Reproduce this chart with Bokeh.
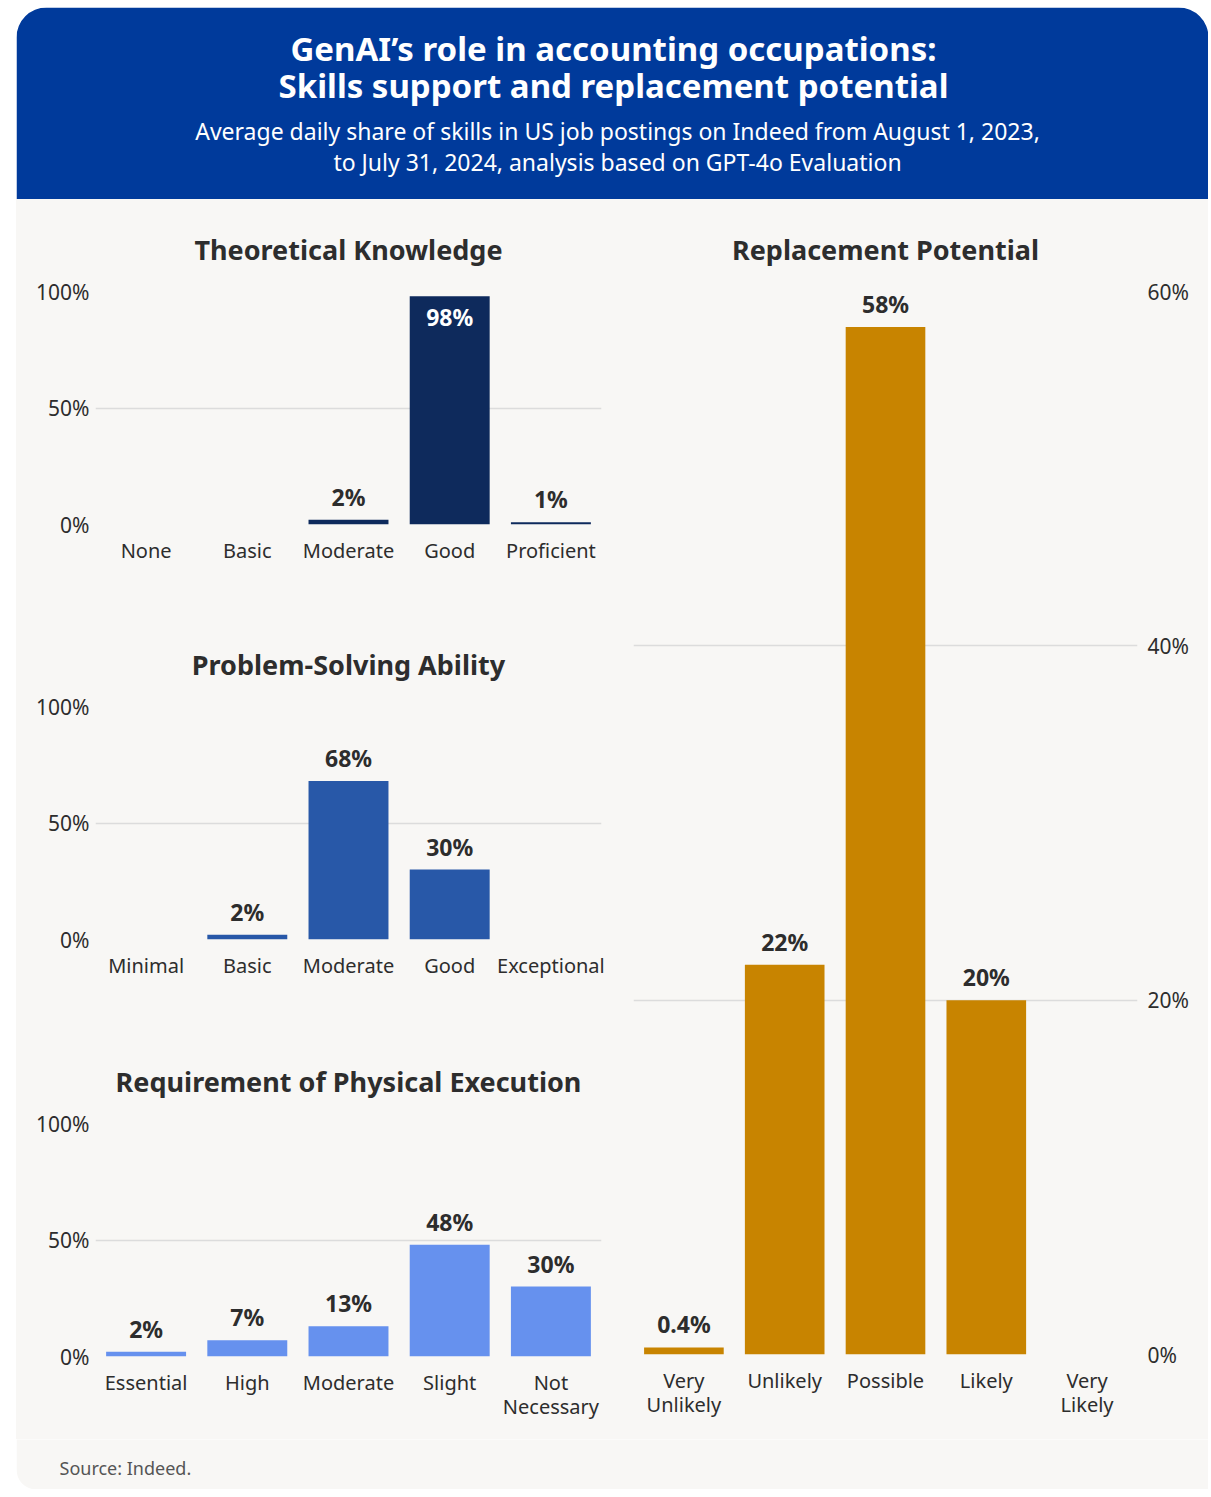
from bokeh.plotting import figure
from bokeh.models import Range1d, FactorRange, FixedTicker, PrintfTickFormatter
from bokeh.layouts import row, column
from bokeh.core.properties import value
from bokeh.embed import file_html
from bokeh.resources import INLINE

# ---------------- data ----------------
title_lines = ["GenAI’s role in accounting occupations:",
               "Skills support and replacement potential"]
subtitle_lines = ["Average daily share of skills in US job postings on Indeed from August 1, 2023,",
                  "to July 31, 2024, analysis based on GPT-4o Evaluation"]
source_text = "Source: Indeed."

tk_title = "Theoretical Knowledge"
tk_cats = ["None", "Basic", "Moderate", "Good", "Proficient"]
tk_vals = [0, 0, 2, 98, 1]

ps_title = "Problem-Solving Ability"
ps_cats = ["Minimal", "Basic", "Moderate", "Good", "Exceptional"]
ps_vals = [0, 2, 68, 30, 0]

pe_title = "Requirement of Physical Execution"
pe_cats = ["Essential", "High", "Moderate", "Slight", "Not\nNecessary"]
pe_vals = [2, 7, 13, 48, 30]

rp_title = "Replacement Potential"
rp_cats = ["Very\nUnlikely", "Unlikely", "Possible", "Likely", "Very\nLikely"]
rp_vals = [0.4, 22, 58, 20, 0]

left_ticks = [0, 50, 100]
right_ticks = [0, 20, 40, 60]

# ---------------- style ----------------
FONT = "Noto Sans"
BLUE = "#003A9B"
BG = "#F8F7F5"
TXT = "#2D2D2D"
GRID = "#DCDCDC"
CW = 1192  # card width
LW = 600   # left column width
RW = CW - LW

def bar_chart(title, cats, vals, color, ticks, ymax, width, height,
              mbl, mbr, mbt, mbb, yloc, standoff):
    p = figure(width=width, height=height,
               x_range=FactorRange(factors=cats, range_padding=0),
               y_range=Range1d(0, ymax),
               y_axis_location=yloc,
               output_backend="svg", toolbar_location=None,
               min_border_left=mbl, min_border_right=mbr,
               min_border_top=mbt, min_border_bottom=mbb)
    p.background_fill_color = BG
    p.border_fill_color = BG
    p.outline_line_color = None

    p.title.text = title
    p.title.align = "center"
    p.title.text_font = FONT
    p.title.text_font_size = "27px"
    p.title.text_font_style = "bold"
    p.title.text_color = TXT
    p.title.standoff = standoff

    p.vbar(x=cats, top=vals, width=0.79, fill_color=color, line_color=None)

    out_x = [c for c, v in zip(cats, vals) if 0 < v < 90]
    out_y = [v for v in vals if 0 < v < 90]
    in_x = [c for c, v in zip(cats, vals) if v >= 90]
    in_y = [v for v in vals if v >= 90]
    p.text(x=out_x, y=out_y, text=[f"{v:g}%" for v in out_y],
           text_align="center", text_baseline="bottom", y_offset=-7,
           text_font=value(FONT), text_font_style="bold",
           text_font_size="23px", text_color=TXT)
    if in_x:
        p.text(x=in_x, y=in_y, text=[f"{v:g}%" for v in in_y],
               text_align="center", text_baseline="top", y_offset=5,
               text_font=value(FONT), text_font_style="bold",
               text_font_size="23px", text_color="white")

    ax = p.xaxis[0]
    ax.axis_line_color = None
    ax.major_tick_line_color = None
    ax.minor_tick_line_color = None
    ax.major_tick_out = 0
    ax.major_tick_in = 0
    ax.major_label_standoff = 12
    ax.major_label_text_font = FONT
    ax.major_label_text_font_size = "20px"
    ax.major_label_text_color = TXT
    ax.major_label_text_line_height = 0.9

    ay = p.yaxis[0]
    ay.ticker = FixedTicker(ticks=ticks)
    ay.formatter = PrintfTickFormatter(format="%d%%")
    ay.axis_line_color = None
    ay.major_tick_line_color = None
    ay.minor_tick_line_color = None
    ay.major_tick_out = 0
    ay.major_tick_in = 0
    ay.major_label_standoff = 6 if yloc == "left" else 10
    ay.major_label_text_font = FONT
    ay.major_label_text_font_size = "21px"
    ay.major_label_text_color = TXT

    p.xgrid.grid_line_color = None
    p.ygrid.ticker = FixedTicker(ticks=ticks)
    p.ygrid.grid_line_color = GRID
    p.ygrid.grid_line_width = 1.5
    return p

def blank(width, height):
    p = figure(width=width, height=height, x_range=Range1d(0, width), y_range=Range1d(height, 0),
               x_axis_location=None, y_axis_location=None,
               output_backend="svg", toolbar_location=None, min_border=0)
    p.grid.visible = False
    p.outline_line_color = None
    p.background_fill_color = "white"
    p.border_fill_color = "white"
    return p

# header
HH = 192
hdr = blank(CW, HH)
hdr.quad(left=[0], right=[CW], top=[0], bottom=[HH + 40], fill_color=BLUE, line_color=None, border_radius=30)
hdr.text(x=[597, 597], y=[41, 78], text=title_lines, text_align="center", text_baseline="middle",
         text_font=value(FONT), text_font_style="bold", text_font_size="33px", text_color="white")
hdr.text(x=[601, 601], y=[123, 154], text=subtitle_lines, text_align="center", text_baseline="middle",
         text_font=value(FONT), text_font_size="23px", text_color="white")

# left charts
f1 = bar_chart(tk_title, tk_cats, tk_vals, "#0E2A5C", left_ticks, 100, LW, 410, 79, 15, 92, 85, "left", 47)
f2 = bar_chart(ps_title, ps_cats, ps_vals, "#2858A8", left_ticks, 100, LW, 415, 79, 15, 97, 85, "left", 47)
f3 = bar_chart(pe_title, pe_cats, pe_vals, "#6691EE", left_ticks, 100, LW, 415, 79, 15, 99, 83, "left", 47)
# right chart
fr = bar_chart(rp_title, rp_cats, rp_vals, "#C88400", right_ticks, 60, RW, 1240,
               17, RW - 17 - 504, 92, 85, "right", 47)

# footer
FH = 50
ftr = blank(CW, FH)
ftr.quad(left=[0], right=[CW + 40], top=[-40], bottom=[FH], fill_color=BG, line_color=None, border_radius=20)
ftr.text(x=[43], y=[28], text=[source_text], text_align="left", text_baseline="middle",
         text_font=value(FONT), text_font_size="18px", text_color="#555555")

body = row(column(f1, f2, f3, styles={"background-color": BG}), fr, styles={"background-color": BG})
layout = column(hdr, body, ftr, margin=(7, 0, 0, 16))

open("out.html", "w").write(file_html(layout, INLINE))
